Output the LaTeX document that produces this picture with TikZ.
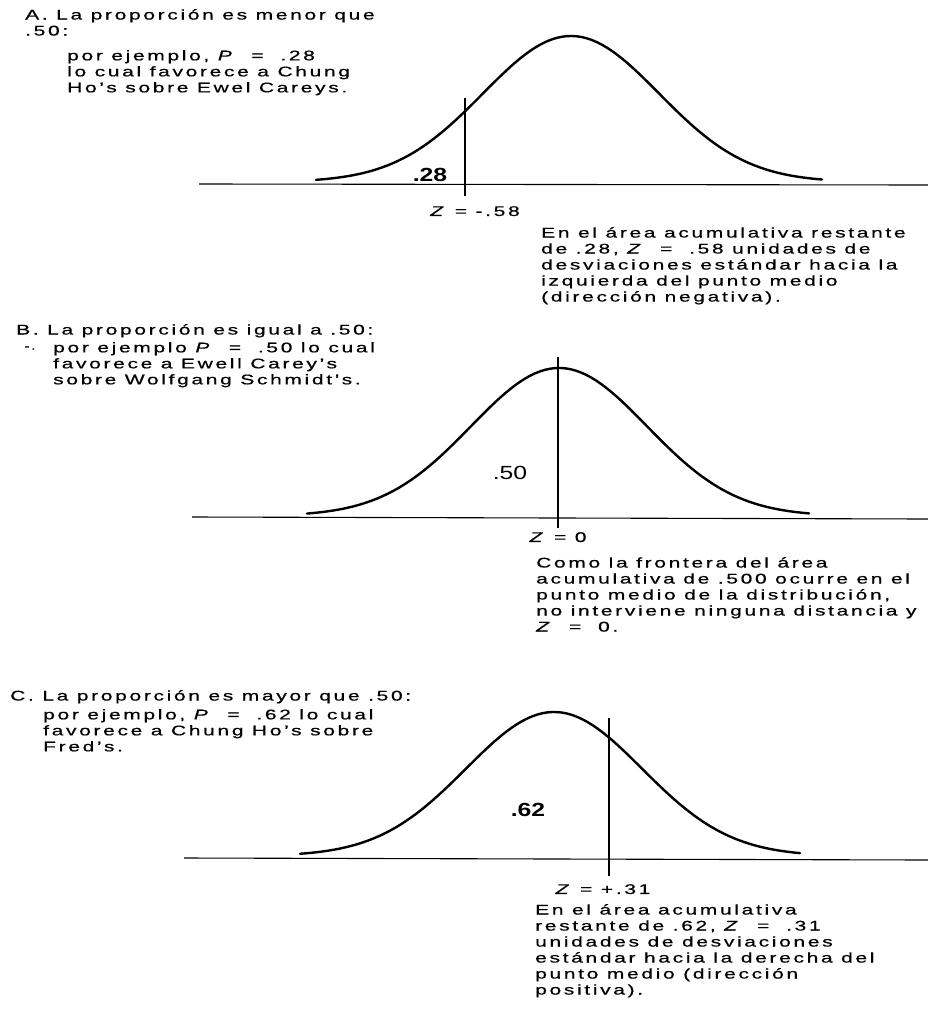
\documentclass[tikz,border=0pt]{standalone}
\usepackage{fontspec}
\setmainfont{Liberation Sans}[FakeStretch=1.5,LetterSpace=19,FakeBold=0.6]
\newfontfamily\cifra{Liberation Sans}[FakeStretch=1.3]
\newcommand{\igual}{\hspace{1.2em}=\hspace{1.2em}}
\usetikzlibrary{positioning}

\begin{document}
\begin{tikzpicture}[x=1pt,y=-1pt,
  font=\fontsize{14}{16}\selectfont,
  txt/.style={inner sep=0pt,align=left,anchor=north west},
  curva/.style={line width=2.4pt,line join=round,line cap=round},
  eje/.style={line width=1.1pt},
  valor/.style={inner sep=0pt,font=\cifra\fontsize{19}{21}\selectfont},
  zlab/.style={inner sep=0pt},
  declare function={bell(\t)=exp(-((\t/88)^2)/2);},
]
\useasboundingbox (0,0) rectangle (928,1015);

% A: proportion below .50
\node[txt] (cabA) at (25,9) {A. La proporción es menor que\\.50:};
\node[txt] (ejA) at (67,50) {por ejemplo, \textit{P}\igual.28\\
  lo cual favorece a Chung\\Ho's sobre Ewel Careys.};
\draw[eje] (199,184) -- (928,185);
\draw[curva] plot[domain=-255:251,samples=100] ({571+\x},{182-146*bell(\x)});
\coordinate (topA) at (465,98);
\coordinate (zA) at (465,196);
\draw[eje] (topA) -- (zA);
\node[valor] (vA) at (430,175) {\bfseries .28};
\node[zlab,below=10pt of zA,xshift=10pt] (labA) {\textit{Z} = -.58};
\node[txt] (expA) at (541,227) {En el área acumulativa restante\\
  de .28, \textit{Z}\igual.58 unidades de\\desviaciones estándar hacia la\\
  izquierda del punto medio\\(dirección negativa).};

% B: proportion equal to .50
\node[txt] (cabB) at (16,324) {B. La proporción es igual a .50:};
\node[inner sep=0pt,font=\fontsize{10}{12}\selectfont] (marcaB) at (30,348) {-.};
\node[txt] (ejB) at (53,342) {por ejemplo \textit{P}\igual.50 lo cual\\
  favorece a Ewell Carey's\\sobre Wolfgang Schmidt's.};
\draw[eje] (192,517) -- (928,519);
\draw[curva] plot[domain=-252:250,samples=100] ({559+\x},{516-148*bell(\x)});
\coordinate (topB) at (558,357);
\coordinate (zB) at (558,528);
\draw[eje] (topB) -- (zB);
\node[valor] (vB) at (510,473) {.50};
\node[zlab,below=4pt of zB] (labB) {\textit{Z} = 0};
\node[txt] (expB) at (536,557) {Como la frontera del área\\
  acumulativa de .500 ocurre en el\\punto medio de la distribución,\\
  no interviene ninguna distancia y\\\textit{Z}\igual0.};

% C: proportion above .50
\node[txt] (cabC) at (10,690) {C. La proporción es mayor que .50:};
\node[txt] (ejC) at (43,709) {por ejemplo, \textit{P}\igual.62 lo cual\\
  favorece a Chung Ho's sobre\\Fred's.};
\draw[eje] (184,858) -- (928,860);
\draw[curva] plot[domain=-254:246,samples=100] ({554+\x},{856-144*bell(\x)});
\coordinate (topC) at (609,718);
\coordinate (zC) at (609,876);
\draw[eje] (topC) -- (zC);
\node[valor] (vC) at (528,810) {\bfseries .62};
\node[zlab,below=8pt of zC,xshift=-6pt] (labC) {\textit{Z} = +.31};
\node[txt] (expC) at (535,904) {En el área acumulativa\\
  restante de .62, \textit{Z}\igual.31\\unidades de desviaciones\\
  estándar hacia la derecha del\\punto medio (dirección\\positiva).};
\end{tikzpicture}
\end{document}
